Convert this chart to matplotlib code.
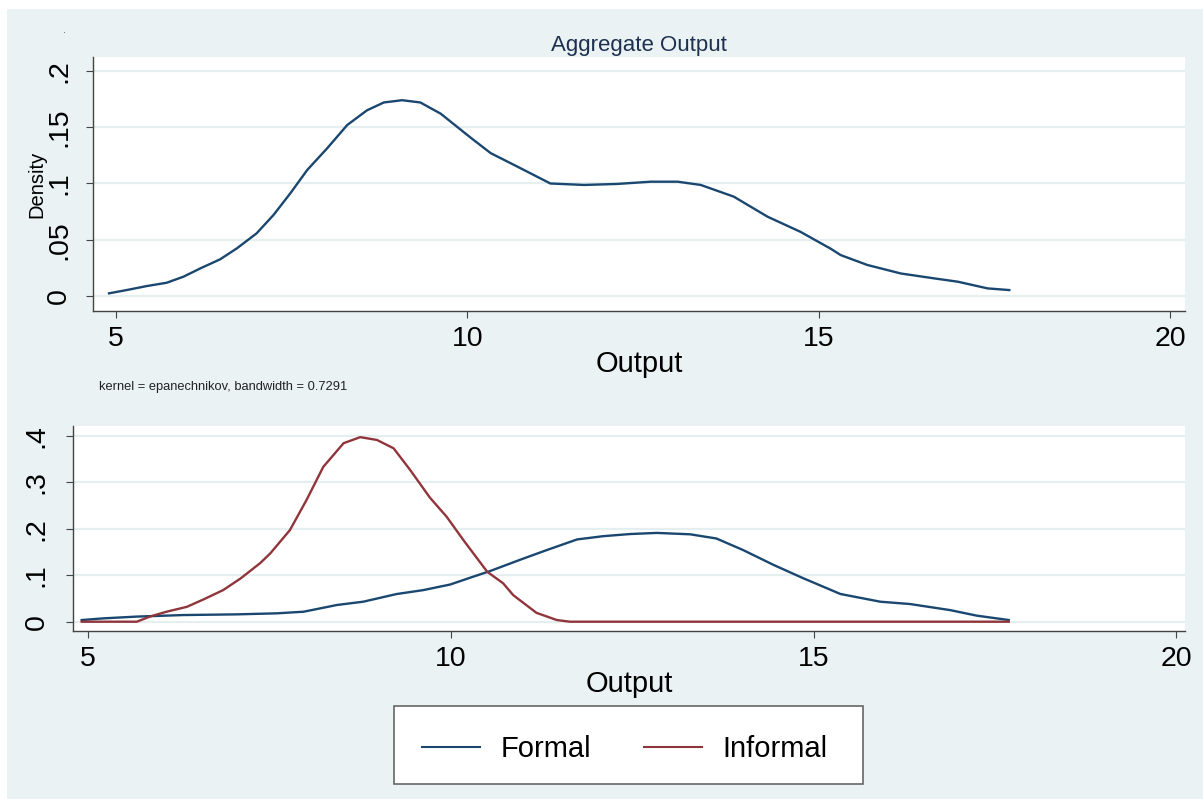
"""Kernel density of output: aggregate and by sector (formal / informal)."""

import matplotlib

matplotlib.use("Agg")
import matplotlib.pyplot as plt
from matplotlib.lines import Line2D
from matplotlib.patches import Rectangle

plt.rcParams["font.family"] = ["Liberation Sans", "DejaVu Sans"]

BLUE = "#1a476f"
RED = "#90353b"
BG = "#eaf2f3"
GRID = "#e6eff0"

# aggregate density (top panel)
agg_x = [4.90, 5.15, 5.44, 5.72, 5.96, 6.20, 6.48, 6.72, 7.00, 7.24, 7.48, 7.72,
         8.00, 8.29, 8.57, 8.81, 9.07, 9.33, 9.62, 10.04, 10.33, 10.71, 11.18,
         11.66, 12.13, 12.61, 12.99, 13.32, 13.79, 14.27, 14.74, 15.17, 15.31,
         15.69, 16.17, 16.64, 16.98, 17.40, 17.71]
agg_y = [0.0024, 0.0053, 0.0089, 0.0118, 0.0172, 0.0246, 0.0326, 0.0424, 0.0557,
         0.072, 0.0913, 0.112, 0.131, 0.152, 0.165, 0.172, 0.174, 0.172, 0.162,
         0.141, 0.127, 0.115, 0.100, 0.0987, 0.0996, 0.1016, 0.1016, 0.0987,
         0.0883, 0.0705, 0.057, 0.042, 0.0364, 0.0276, 0.020, 0.0157, 0.0127,
         0.0068, 0.0053]

# formal sector density (bottom panel)
formal_x = [4.91, 5.21, 5.67, 6.31, 7.05, 7.60, 7.97, 8.43, 8.79, 9.25, 9.62,
            9.99, 10.31, 10.54, 10.95, 11.32, 11.74, 12.10, 12.47, 12.84, 13.30,
            13.66, 14.03, 14.45, 14.85, 15.37, 15.92, 16.33, 16.88, 17.25, 17.69]
formal_y = [0.0036, 0.0072, 0.011, 0.0143, 0.0158, 0.018, 0.0215, 0.036, 0.043,
            0.0595, 0.068, 0.0800, 0.097, 0.109, 0.133, 0.154, 0.177, 0.184,
            0.1886, 0.191, 0.188, 0.179, 0.154, 0.122, 0.094, 0.0596, 0.043,
            0.038, 0.025, 0.013, 0.0036]

# informal sector density (bottom panel)
informal_x = [4.91, 5.67, 5.85, 6.08, 6.36, 6.59, 6.86, 7.10, 7.37, 7.51, 7.78,
              8.01, 8.24, 8.52, 8.75, 8.98, 9.21, 9.44, 9.71, 9.94, 10.17, 10.50,
              10.72, 10.86, 11.18, 11.46, 11.64, 17.69]
informal_y = [0.0, 0.0, 0.011, 0.0215, 0.032, 0.048, 0.068, 0.093, 0.126, 0.147,
              0.197, 0.262, 0.333, 0.384, 0.397, 0.391, 0.373, 0.326, 0.267,
              0.226, 0.176, 0.1075, 0.0826, 0.057, 0.019, 0.0036, 0.0, 0.0]

x_ticks = [5, 10, 15, 20]
top_yticks = [0, 0.05, 0.1, 0.15, 0.2]
top_ylabels = ["0", ".05", ".1", ".15", ".2"]
bot_yticks = [0, 0.1, 0.2, 0.3, 0.4]
bot_ylabels = ["0", ".1", ".2", ".3", ".4"]


def style(ax, yticks, ylabels, ypad):
    ax.set_facecolor("white")
    for side in ("top", "right"):
        ax.spines[side].set_visible(False)
    for side in ("left", "bottom"):
        ax.spines[side].set_color("#444444")
        ax.spines[side].set_linewidth(1.0)
    ax.set_xticks(x_ticks)
    ax.set_yticks(yticks)
    ax.set_yticklabels(ylabels)
    ax.grid(True, axis="y", color=GRID, linewidth=1.6)
    ax.set_axisbelow(True)
    ax.tick_params(axis="x", labelsize=20.5, length=5, color="#444444", pad=6)
    ax.tick_params(axis="y", labelsize=20.5, length=5, color="#444444",
                   pad=ypad, labelrotation=90)
    for lbl in ax.get_yticklabels():
        lbl.set_va("center")
    ax.set_xlabel("Output", fontsize=21, labelpad=-2)


fig = plt.figure(figsize=(12.03, 7.99), dpi=100, facecolor="white")
fig.add_artist(Rectangle((7 / 1203, 0), 1 - 7 / 1203, 1 - 9 / 799,
                         transform=fig.transFigure, facecolor=BG,
                         edgecolor="none", zorder=-10))
fig.text(65 / 1203, 1 - 30 / 799, ".", fontsize=8, color="#555555",
         ha="center", va="center")

top = fig.add_axes([93 / 1203, 1 - 311 / 799, 1092 / 1203, 254 / 799])
top.plot(agg_x, agg_y, color=BLUE, linewidth=1.7)
top.set_xlim(4.672, 20.21)
top.set_ylim(-0.0133, 0.2124)
style(top, top_yticks, top_ylabels, 10)
top.set_ylabel("Density", fontsize=14.5, labelpad=0)
top.set_title("Aggregate Output", fontsize=16, color="#1e3050", pad=4)

fig.text(99 / 1203, 1 - 387 / 799, "kernel = epanechnikov, bandwidth = 0.7291",
         fontsize=9.3, color="#222222", ha="left", va="center")

bot = fig.add_axes([73 / 1203, 1 - 631 / 799, 1112 / 1203, 205 / 799])
bot.plot(formal_x, formal_y, color=BLUE, linewidth=1.7)
bot.plot(informal_x, informal_y, color=RED, linewidth=1.7)
bot.set_xlim(4.79, 20.12)
bot.set_ylim(-0.02, 0.421)
style(bot, bot_yticks, bot_ylabels, 12)

# legend box
fig.add_artist(Rectangle((394 / 1203, 1 - 784 / 799), 469 / 1203, 78 / 799,
                         transform=fig.transFigure, facecolor="white",
                         edgecolor="#666666", linewidth=1.2, zorder=2))
handles = [Line2D([], [], color=BLUE, linewidth=1.5),
           Line2D([], [], color=RED, linewidth=1.5)]
leg = fig.legend(handles, ["Formal", "Informal"], loc="center",
                 bbox_to_anchor=(625 / 1203, 1 - 749 / 799), ncol=2,
                 frameon=False, fontsize=21, handlelength=2.0,
                 handletextpad=0.7, columnspacing=1.8)
leg.set_zorder(3)

fig.savefig("out.png", dpi=100, facecolor="white")
